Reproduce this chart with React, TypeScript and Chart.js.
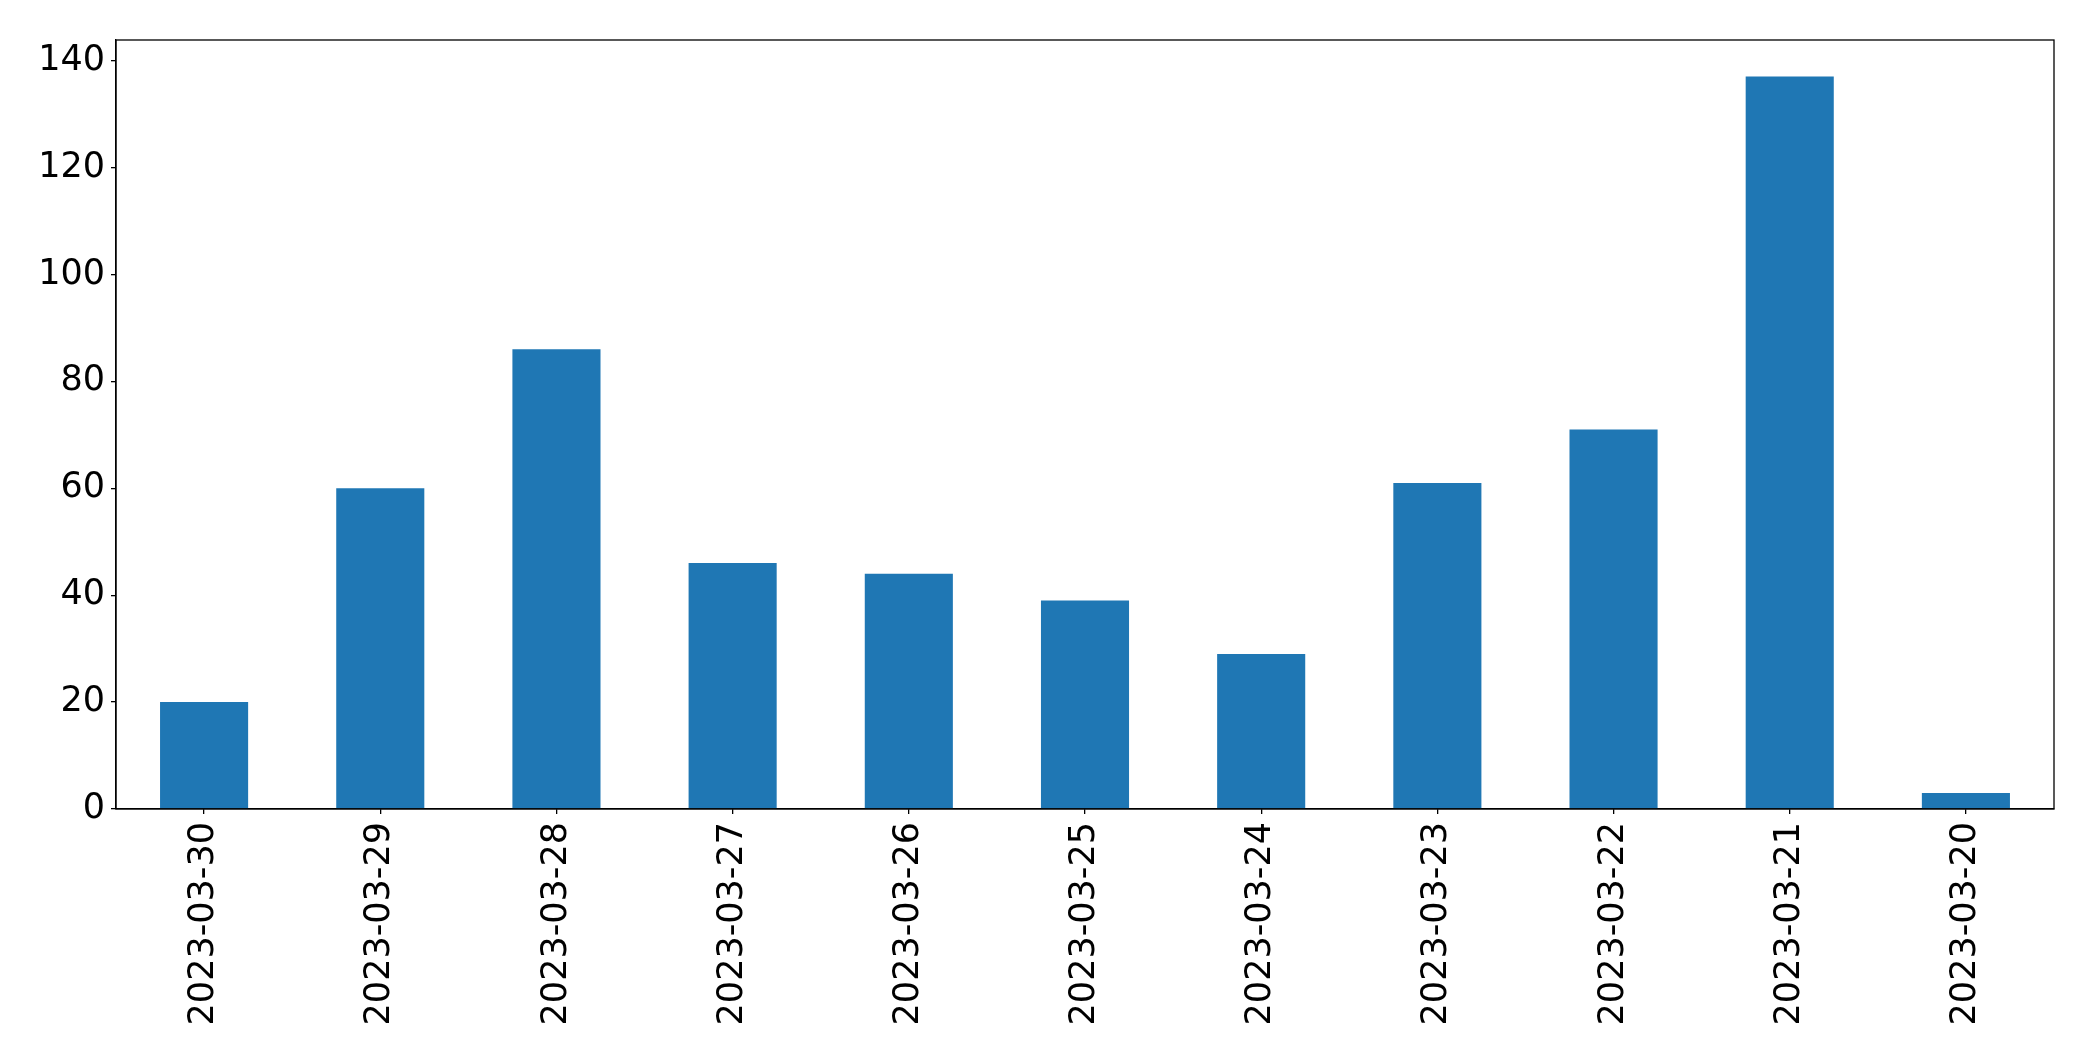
import { useEffect, useRef } from 'react'
import { Chart, registerables } from 'chart.js'

Chart.register(...registerables)

const dates = [
  '2023-03-30', '2023-03-29', '2023-03-28', '2023-03-27', '2023-03-26', '2023-03-25',
  '2023-03-24', '2023-03-23', '2023-03-22', '2023-03-21', '2023-03-20'
]
const counts = [20, 60, 86, 46, 44, 39, 29, 61, 71, 137, 3]
const yTicks = [0, 20, 40, 60, 80, 100, 120, 140]
const yMax = 143.85

const W = 2093
const H = 1061

// matplotlib draws a full box around the axes
const frame = {
  id: 'frame',
  afterDraw(chart: any) {
    const { ctx, chartArea } = chart
    ctx.save()
    ctx.strokeStyle = '#000'
    ctx.lineWidth = 1.3
    ctx.strokeRect(chartArea.left, chartArea.top, chartArea.right - chartArea.left, chartArea.bottom - chartArea.top)
    ctx.restore()
  }
}

export default function App() {
  const chartRef = useRef<HTMLCanvasElement>(null)
  const chartInstance = useRef<Chart | null>(null)

  useEffect(() => {
    if (!chartRef.current) return
    if (chartInstance.current) chartInstance.current.destroy()
    const ctx = chartRef.current.getContext('2d')
    if (!ctx) return

    const font = { family: '"DejaVu Sans", sans-serif', size: 35 }

    chartInstance.current = new Chart(ctx, {
      type: 'bar',
      data: {
        labels: dates,
        datasets: [
          {
            data: counts,
            backgroundColor: '#1f77b4',
            borderWidth: 0,
            categoryPercentage: 1,
            barPercentage: 0.5
          }
        ]
      },
      options: {
        responsive: false,
        animation: false,
        devicePixelRatio: 1,
        layout: { padding: { left: 0, right: 39, top: 40, bottom: 0 } },
        plugins: {
          legend: { display: false },
          tooltip: { enabled: false }
        },
        scales: {
          x: {
            offset: true,
            grid: { display: true, drawOnChartArea: false, drawTicks: true, tickLength: 5, color: '#000', lineWidth: 1.3, offset: false },
            border: { display: true, color: '#000', width: 1.3 },
            ticks: { color: '#000', font, minRotation: 90, maxRotation: 90, padding: 8, autoSkip: false },
            afterFit: (scale: any) => { scale.height = H - 809 }
          },
          y: {
            min: 0,
            max: yMax,
            grid: { display: true, drawOnChartArea: false, drawTicks: true, tickLength: 5, color: '#000', lineWidth: 1.3 },
            border: { display: true, color: '#000', width: 1.3 },
            ticks: { color: '#000', font, padding: 6 },
            afterBuildTicks: (scale: any) => { scale.ticks = yTicks.map((v) => ({ value: v })) },
            afterFit: (scale: any) => { scale.width = 116 }
          }
        }
      },
      plugins: [frame]
    })

    return () => {
      if (chartInstance.current) chartInstance.current.destroy()
    }
  }, [])

  return (
    <div style={{ position: 'absolute', left: 0, top: 0, width: W, height: H, background: '#fff' }}>
      <canvas ref={chartRef} width={W} height={H} />
    </div>
  )
}
